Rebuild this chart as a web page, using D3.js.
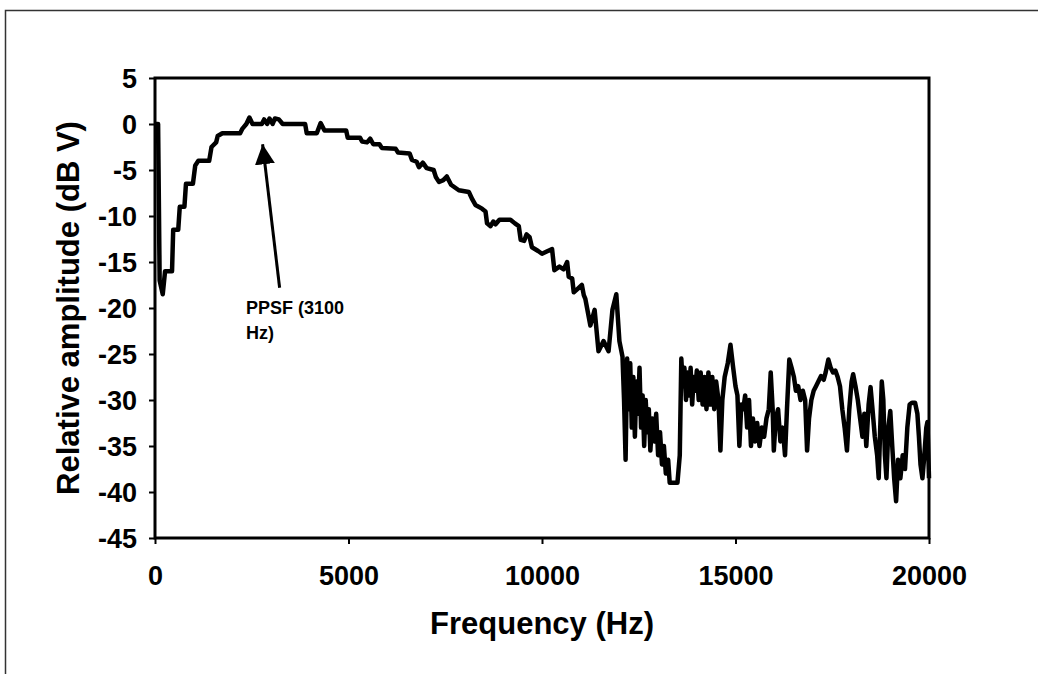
<!DOCTYPE html>
<html>
<head>
<meta charset="utf-8">
<script src="https://cdn.jsdelivr.net/npm/d3@7"></script>
<style>
  body { margin: 0; background: #fff; }
  svg { display: block; font-family: "Liberation Sans", Arial, sans-serif; }
  .axis text { font-size: 27px; font-weight: bold; fill: #000; }
  .axis line { stroke: #000; stroke-width: 2; }
  .axis path { display: none; }
</style>
</head>
<body>
<div id="chart"></div>
<script>
// spectrum data (Hz / dB V)
const freq = [
  0, 80, 120, 200, 260, 440, 470, 600, 640, 760, 800, 980, 1040, 1120, 1400, 1460, 1580, 1620, 1740, 2200,
  2260, 2360, 2440, 2520, 2760, 2820, 2900, 2960, 3040, 3100, 3200, 3300, 3880, 3920, 4180, 4280, 4380, 4940, 4980, 5300,
  5350, 5480, 5560, 5640, 5800, 5860, 6220, 6280, 6580, 6640, 6760, 6820, 6920, 7020, 7200, 7260, 7340, 7450, 7540, 7650,
  7850, 8110, 8200, 8280, 8450, 8540, 8580, 8670, 8740, 8800, 8900, 9185, 9300, 9400, 9450, 9540, 9600, 9680, 9740, 9900,
  10000, 10150, 10260, 10320, 10450, 10560, 10650, 10690, 10780, 10820, 10900, 11030, 11080, 11120, 11250, 11360, 11460, 11590, 11720, 11820,
  11920, 12000, 12080,
  // noisy part above 12 kHz
  12120, 12160, 12200, 12240, 12280, 12320, 12360, 12400, 12440, 12480,
  12520, 12560, 12600, 12640, 12680, 12720, 12760, 12800, 12850, 12900,
  12950, 13000, 13050, 13100, 13150, 13200, 13260, 13300, 13500, 13560,
  13600, 13640, 13680, 13720, 13760, 13800, 13840, 13880, 13920, 13960,
  14000, 14050, 14100, 14150, 14200, 14250, 14300, 14350, 14400, 14450,
  14500, 14560, 14610, 14660, 14720, 14800, 14870, 14940, 15000, 15050,
  15100, 15150, 15200, 15250, 15300, 15350, 15400, 15450, 15500, 15560,
  15620, 15680, 15740, 15800, 15860, 15910, 15960, 15990, 16040, 16100,
  16160, 16220, 16280, 16330, 16390, 16450, 16510, 16560, 16620, 16680,
  16740, 16800, 16850, 16900, 16960, 17020, 17080, 17140, 17210, 17280,
  17330, 17400, 17460, 17520, 17580, 17640, 17700, 17760, 17820, 17880,
  17940, 18000, 18040, 18100, 18160, 18220, 18280, 18330, 18380, 18440,
  18490, 18540, 18600, 18660, 18700, 18740, 18780, 18820, 18860, 18900,
  18950, 19000, 19050, 19100, 19150, 19200, 19260, 19320, 19380, 19440,
  19500, 19560, 19640, 19700, 19740, 19780, 19830, 19880, 19930, 19960,
  20000
]
const amp = [
  0, 0, -17, -18.5, -16, -16, -11.5, -11.5, -9, -9, -6.5, -6.5, -4.5, -4, -4, -2.5, -2, -1.3, -1, -1,
  -0.5, 0, 0.7, 0, 0, 0.5, 0, 0.6, 0, 0.6, 0.5, 0, 0, -1, -1, 0.1, -0.7, -0.7, -1.5, -1.5,
  -1.9, -2, -1.6, -2.2, -2.2, -2.6, -2.7, -3.1, -3.2, -3.9, -4.1, -4.7, -4.2, -4.8, -5, -5.8, -6.3, -6.1, -5.7, -6.6,
  -7.2, -7.4, -8.2, -8.8, -9.2, -9.5, -10.8, -11.1, -10.6, -10.9, -10.4, -10.4, -10.8, -11.1, -12.6, -12.7, -12, -12.3, -13.4, -13.8,
  -14.1, -13.8, -13.6, -15.9, -15.5, -15.8, -15, -16.6, -16.8, -18.3, -18, -17.5, -18.6, -19, -21.9, -20.2, -24.7, -23.6, -24.7, -20.2,
  -18.5, -23.6, -25.3,
  -30, -36.5, -25.5, -31, -26, -33, -27.5, -34, -28, -31.5,
  -26.5, -33, -29.5, -35, -30, -33.5, -31, -35.5, -32, -34.5,
  -31.5, -36, -33.5, -37, -35, -38, -36.5, -39, -39, -36,
  -25.5, -28.5, -26.5, -30, -27, -29.5, -26.5, -30.5, -27.5, -29,
  -26.8, -30, -27, -30.5, -27.5, -31, -27, -30.5, -27.5, -31,
  -28, -30, -35.5, -30, -27.5, -26, -24, -26.5, -28.5, -29.5,
  -35, -30.5, -31, -29.5, -33, -30, -35, -32, -34.5, -32.5,
  -35, -33, -34, -32, -31, -27, -31, -35.5, -32, -31,
  -34.5, -33, -36, -31, -25.6, -26.5, -27.5, -29, -28.5, -30,
  -29, -30, -35.5, -32, -30, -29, -28.5, -28, -27.4, -27.8,
  -27, -25.6, -26.5, -27, -26.8, -27.5, -28.5, -31, -33, -35.5,
  -31, -28, -27.2, -28.5, -30, -32, -34, -31.5, -35, -30.5,
  -28.6, -31, -34, -36, -38.5, -33, -28, -30, -36, -38.5,
  -33, -31.2, -35, -38.5, -41, -36.5, -38.5, -36, -37.5, -33,
  -30.5, -30.3, -30.3, -31.5, -34, -37, -38.5, -36, -33, -32.4,
  -38.5
]

// axis ticks
const xTicks = [0, 5000, 10000, 15000, 20000]
const yTicks = [5, 0, -5, -10, -15, -20, -25, -30, -35, -40, -45]

// annotation (arrow from label up to the peak)
const noteLines = ['PPSF (3100', 'Hz)']
const noteText = [2350, -20.6]
const arrowTail = [3220, -17.8]
const arrowTip = [2780, -2.2]

const width = 1038
const height = 674
const margin = { top: 78, right: 109, bottom: 136, left: 155 }
const innerWidth = width - margin.left - margin.right
const innerHeight = height - margin.top - margin.bottom

const svg = d3.select('#chart').append('svg')
  .attr('width', width)
  .attr('height', height)

// outer frame of the figure (only top and left sides show)
svg.append('path')
  .attr('d', `M5.5,${height} V10.5 H${width}`)
  .attr('fill', 'none')
  .attr('stroke', '#333')
  .attr('stroke-width', 1.5)

const g = svg.append('g')
  .attr('transform', `translate(${margin.left}, ${margin.top})`)

const xScale = d3.scaleLinear().domain([0, 20000]).range([0, innerWidth])
const yScale = d3.scaleLinear().domain([-45, 5]).range([innerHeight, 0])

// axes
g.append('g')
  .attr('class', 'axis')
  .attr('transform', `translate(0, ${innerHeight})`)
  .call(d3.axisBottom(xScale).tickValues(xTicks).tickSize(6).tickPadding(22).tickFormat(d3.format('d')))

const yAxisG = g.append('g')
  .attr('class', 'axis')
  .call(d3.axisLeft(yScale).tickValues(yTicks).tickSize(6).tickPadding(12).tickFormat(d => d))
yAxisG.selectAll('text').attr('dy', '0.36em')

// plot frame
g.append('rect')
  .attr('width', innerWidth)
  .attr('height', innerHeight)
  .attr('fill', 'none')
  .attr('stroke', '#000')
  .attr('stroke-width', 3)

// the spectrum line
const data = freq.map((f, i) => ({ f: f, a: amp[i] }))
const line = d3.line()
  .x(d => xScale(d.f))
  .y(d => yScale(d.a))

g.append('path')
  .datum(data)
  .attr('d', line)
  .attr('fill', 'none')
  .attr('stroke', '#000')
  .attr('stroke-width', 4.5)
  .attr('stroke-linejoin', 'round')

// arrow marker
svg.append('defs').append('marker')
  .attr('id', 'arrow')
  .attr('viewBox', '0 0 10 10')
  .attr('refX', 10)
  .attr('refY', 5)
  .attr('markerUnits', 'userSpaceOnUse')
  .attr('markerWidth', 20)
  .attr('markerHeight', 22)
  .attr('orient', 'auto')
  .append('path')
  .attr('d', 'M0,0 L10,5 L0,10 Z')
  .attr('fill', '#000')

g.append('line')
  .attr('x1', xScale(arrowTail[0]))
  .attr('y1', yScale(arrowTail[1]))
  .attr('x2', xScale(arrowTip[0]))
  .attr('y2', yScale(arrowTip[1]))
  .attr('stroke', '#000')
  .attr('stroke-width', 3)
  .attr('marker-end', 'url(#arrow)')

g.append('text')
  .attr('x', xScale(noteText[0]))
  .attr('y', yScale(noteText[1]))
  .attr('font-size', 18)
  .attr('font-weight', 'bold')
  .selectAll('tspan')
  .data(noteLines)
  .enter()
  .append('tspan')
  .attr('x', xScale(noteText[0]))
  .attr('dy', (d, i) => i === 0 ? 0 : 25)
  .text(d => d)

// axis titles
g.append('text')
  .attr('x', innerWidth / 2)
  .attr('y', innerHeight + 96)
  .attr('text-anchor', 'middle')
  .attr('font-size', 31)
  .attr('font-weight', 'bold')
  .text('Frequency (Hz)')

g.append('text')
  .attr('transform', 'rotate(-90)')
  .attr('x', -innerHeight / 2)
  .attr('y', -76)
  .attr('text-anchor', 'middle')
  .attr('font-size', 31)
  .attr('font-weight', 'bold')
  .text('Relative amplitude (dB V)')
</script>
</body>
</html>
